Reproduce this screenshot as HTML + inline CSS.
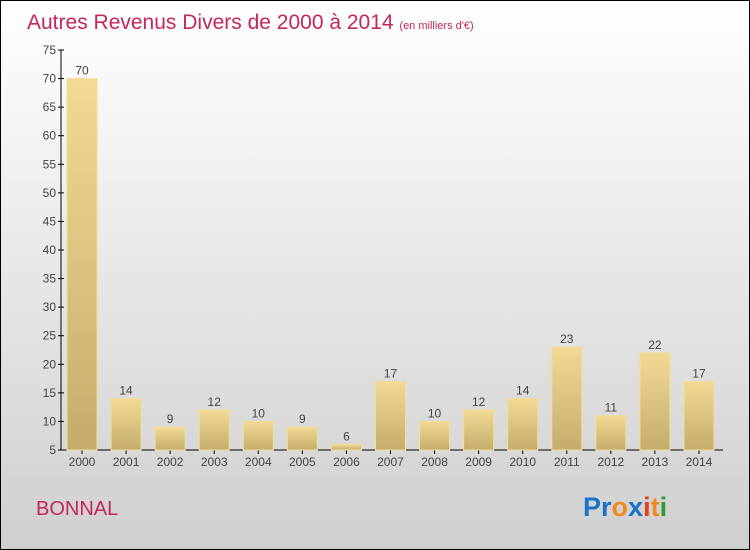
<!DOCTYPE html>
<html><head><meta charset="utf-8"><style>
body{margin:0}
#wrap{position:relative;width:748px;height:548px;border:1px solid #000;background:linear-gradient(#fff,#cfcfcf);font-family:"Liberation Sans",sans-serif;overflow:hidden}
</style></head><body>
<div id="wrap">
<svg id="chart" width="748" height="548">
<defs>
<linearGradient id="bg" x1="0" y1="0" x2="0" y2="1"><stop offset="0" stop-color="#f2da95"/><stop offset="1" stop-color="#c4ac6c"/></linearGradient>
</defs>
<text x="26" y="28" font-size="21" fill="#c4275a">Autres Revenus Divers de 2000 à 2014 <tspan font-size="11">(en milliers d'€)</tspan></text>
<text x="35" y="514" font-size="20" fill="#c4275a">BONNAL</text>
<g font-size="27" font-weight="bold" font-family="'Liberation Sans',sans-serif">
<text x="582" y="515"><tspan fill="#1a73c8">Pr</tspan><tspan fill="#f08a1c">o</tspan><tspan fill="#1a73c8">x</tspan><tspan fill="#e8401c">i</tspan><tspan fill="#f08a1c">t</tspan><tspan fill="#2a9a3a">i</tspan></text>
</g>
<g id="axes"></g><g id="bars"></g>
</svg>
</div>
<script>
const categories=["2000","2001","2002","2003","2004","2005","2006","2007","2008","2009","2010","2011","2012","2013","2014"];
const values=[70,14,9,12,10,9,6,17,10,12,14,23,11,22,17];
const yTicks=[5,10,15,20,25,30,35,40,45,50,55,60,65,70,75];
const NS="http://www.w3.org/2000/svg";
const y0=449,yTop=49,vmin=5,vmax=75;
function yScale(v){return y0-(v-vmin)/(vmax-vmin)*(y0-yTop);}
function xScale(i){return 81+i*44.07;}
function mk(t,a,p){const e=document.createElementNS(NS,t);for(const k in a)e.setAttribute(k,a[k]);p.appendChild(e);return e;}
const ax=document.getElementById('axes'),bs=document.getElementById('bars');
const yl=mk('line',{x1:60,y1:yTop,x2:60,y2:y0,stroke:'#000','stroke-width':1},ax);


const xl=mk('line',{x1:60,y1:y0,x2:722,y2:y0,stroke:'#000','stroke-width':1},ax);


yTicks.forEach(v=>{const y=yScale(v);
mk('line',{x1:57,y1:y,x2:63,y2:y,stroke:'#000'},ax);
const t=mk('text',{x:55,y:y+4,'text-anchor':'end','font-size':12,fill:'#444'},ax);t.textContent=v;

});
categories.forEach((c,i)=>{const x=xScale(i),y=yScale(values[i]);
const r=mk('rect',{x:x-15,y:y,width:30,height:y0-y,fill:'url(#bg)',stroke:'#f3dd9a','stroke-width':1},bs);


const v=mk('text',{x:x,y:y-4,'text-anchor':'middle','font-size':12,fill:'#444'},bs);v.textContent=values[i];


mk('line',{x1:x,y1:y0,x2:x,y2:y0+4,stroke:'#000'},ax);
const t=mk('text',{x:x,y:y0+16,'text-anchor':'middle','font-size':12,fill:'#444'},ax);t.textContent=c;

});
</script>
</body></html>
